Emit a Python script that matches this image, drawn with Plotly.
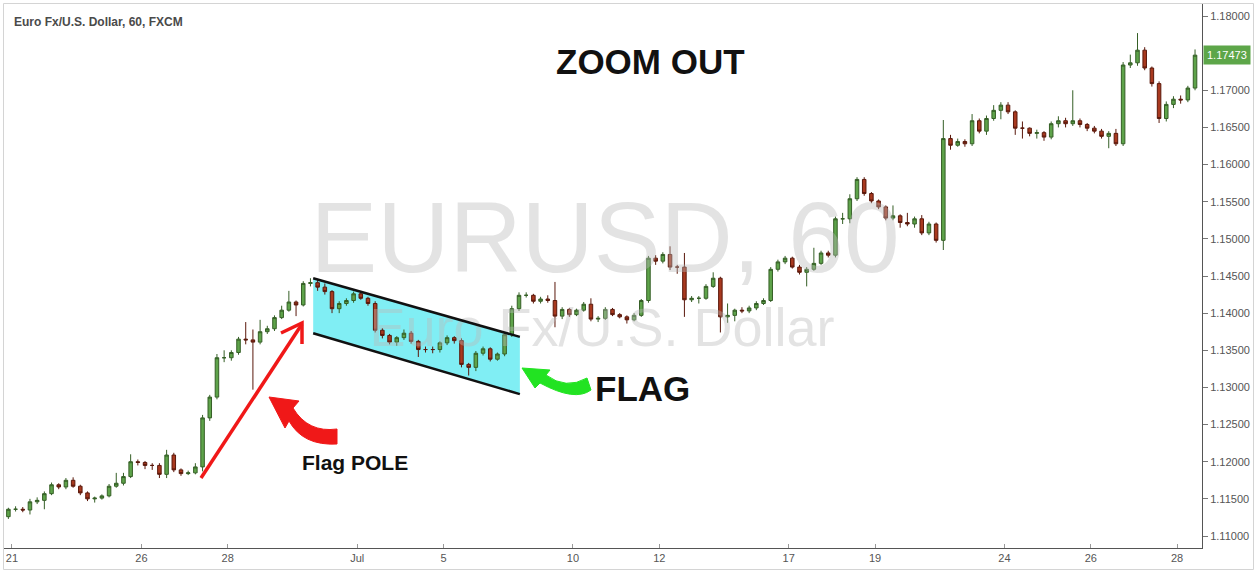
import plotly.graph_objects as go

# ---------------- data (EUR/USD, 4-hour bars) ----------------
first_open = 1.1126
close = [1.1136, 1.1136, 1.1135, 1.1146, 1.1148, 1.1157, 1.1169, 1.1166, 1.1175, 1.1167,
         1.1158, 1.1150, 1.1151, 1.1154, 1.1167, 1.1171, 1.1180, 1.1200, 1.1199, 1.1195,
         1.1195, 1.1183, 1.1209, 1.1189, 1.1184, 1.1185, 1.1193, 1.1259, 1.1287, 1.1340,
         1.1340, 1.1347, 1.1365, 1.1364, 1.1361, 1.1375, 1.1379, 1.1394, 1.1404, 1.1415,
         1.1411, 1.1440, 1.1441, 1.1435, 1.1429, 1.1406, 1.1413, 1.1417, 1.1426, 1.1420,
         1.1413, 1.1377, 1.1370, 1.1361, 1.1367, 1.1373, 1.1362, 1.1351, 1.1351, 1.1351,
         1.1360, 1.1367, 1.1363, 1.1331, 1.1327, 1.1346, 1.1352, 1.1338, 1.1345, 1.1371,
         1.1406, 1.1424, 1.1424, 1.1416, 1.1419, 1.1417, 1.1396, 1.1405, 1.1398, 1.1404,
         1.1412, 1.1392, 1.1393, 1.1405, 1.1398, 1.1395, 1.1391, 1.1397, 1.1417, 1.1474,
         1.1470, 1.1479, 1.1462, 1.1462, 1.1418, 1.1420, 1.1420, 1.1436, 1.1447, 1.1395,
         1.1397, 1.1404, 1.1403, 1.1407, 1.1413, 1.1417, 1.1459, 1.1469, 1.1474, 1.1462,
         1.1455, 1.1459, 1.1467, 1.1481, 1.1478, 1.1527, 1.1527, 1.1554, 1.1580, 1.1561,
         1.1551, 1.1543, 1.1528, 1.1531, 1.1522, 1.1520, 1.1527, 1.1508, 1.1520, 1.1498,
         1.1635, 1.1626, 1.1631, 1.1628, 1.1659, 1.1645, 1.1662, 1.1673, 1.1680, 1.1671,
         1.1649, 1.1649, 1.1642, 1.1643, 1.1637, 1.1655, 1.1659, 1.1655, 1.1659, 1.1654,
         1.1649, 1.1645, 1.1638, 1.1642, 1.1628, 1.1734, 1.1737, 1.1754, 1.1730, 1.1709,
         1.1662, 1.1681, 1.1688, 1.1687, 1.1703, 1.17473]
high = [1.1138, 1.1140, 1.1139, 1.1150, 1.1152, 1.1160, 1.1172, 1.1171, 1.1178, 1.1179,
        1.1169, 1.1160, 1.1153, 1.1156, 1.1170, 1.1185, 1.1185, 1.1210, 1.1203, 1.1201,
        1.1198, 1.1198, 1.1216, 1.1212, 1.1191, 1.1188, 1.1198, 1.1263, 1.1290, 1.1345,
        1.1350, 1.1350, 1.1368, 1.1388, 1.1378, 1.1391, 1.1383, 1.1397, 1.1410, 1.1430,
        1.1417, 1.1443, 1.1447, 1.1446, 1.1440, 1.1431, 1.1416, 1.1420, 1.1429, 1.1430,
        1.1422, 1.1416, 1.1380, 1.1372, 1.1369, 1.1378, 1.1376, 1.1364, 1.1355, 1.1355,
        1.1362, 1.1370, 1.1369, 1.1366, 1.1333, 1.1349, 1.1355, 1.1354, 1.1347, 1.1373,
        1.1410, 1.1428, 1.1428, 1.1426, 1.1422, 1.1424, 1.1442, 1.1408, 1.1407, 1.1406,
        1.1415, 1.1420, 1.1396, 1.1408, 1.1407, 1.1400, 1.1397, 1.1400, 1.1419, 1.1477,
        1.1478, 1.1482, 1.1490, 1.1465, 1.1481, 1.1423, 1.1423, 1.1439, 1.1455, 1.1449,
        1.1413, 1.1406, 1.1408, 1.1410, 1.1416, 1.1420, 1.1462, 1.1472, 1.1477, 1.1476,
        1.1465, 1.1462, 1.1488, 1.1484, 1.1484, 1.1530, 1.1535, 1.1560, 1.1583, 1.1583,
        1.1563, 1.1553, 1.1545, 1.1545, 1.1533, 1.1535, 1.1530, 1.1532, 1.1523, 1.1522,
        1.1660, 1.1640, 1.1635, 1.1634, 1.1668, 1.1662, 1.1666, 1.1680, 1.1684, 1.1684,
        1.1673, 1.1658, 1.1650, 1.1647, 1.1645, 1.1658, 1.1665, 1.1663, 1.1700, 1.1662,
        1.1656, 1.1652, 1.1648, 1.1645, 1.1648, 1.1738, 1.1748, 1.1777, 1.1758, 1.1732,
        1.1712, 1.1685, 1.1692, 1.1693, 1.1706, 1.1755]
low = [1.1123, 1.1133, 1.1132, 1.1129, 1.1143, 1.1136, 1.1155, 1.1163, 1.1163, 1.1165,
       1.1155, 1.1147, 1.1145, 1.1149, 1.1152, 1.1165, 1.1168, 1.1178, 1.1195, 1.1190,
       1.1189, 1.1178, 1.1178, 1.1186, 1.1181, 1.1182, 1.1183, 1.1187, 1.1255, 1.1284,
       1.1334, 1.1336, 1.1344, 1.1358, 1.1297, 1.1358, 1.1372, 1.1376, 1.1392, 1.1402,
       1.1396, 1.1409, 1.1436, 1.1430, 1.1425, 1.1400, 1.1400, 1.1410, 1.1414, 1.1418,
       1.1410, 1.1374, 1.1366, 1.1358, 1.1356, 1.1364, 1.1359, 1.1341, 1.1347, 1.1346,
       1.1347, 1.1357, 1.1359, 1.1327, 1.1316, 1.1322, 1.1343, 1.1335, 1.1336, 1.1342,
       1.1368, 1.1403, 1.1421, 1.1413, 1.1413, 1.1414, 1.1381, 1.1392, 1.1395, 1.1396,
       1.1402, 1.1389, 1.1388, 1.1391, 1.1396, 1.1393, 1.1386, 1.1389, 1.1395, 1.1414,
       1.1465, 1.1467, 1.1458, 1.1453, 1.1395, 1.1415, 1.1413, 1.1418, 1.1434, 1.1374,
       1.1387, 1.1389, 1.1400, 1.1400, 1.1404, 1.1411, 1.1415, 1.1456, 1.1466, 1.1460,
       1.1452, 1.1436, 1.1457, 1.1465, 1.1475, 1.1475, 1.1520, 1.1521, 1.1551, 1.1558,
       1.1548, 1.1540, 1.1525, 1.1525, 1.1515, 1.1517, 1.1515, 1.1505, 1.1505, 1.1495,
       1.1485, 1.1620, 1.1624, 1.1624, 1.1625, 1.1642, 1.1640, 1.1659, 1.1661, 1.1668,
       1.1640, 1.1635, 1.1638, 1.1635, 1.1632, 1.1634, 1.1650, 1.1650, 1.1652, 1.1650,
       1.1645, 1.1642, 1.1635, 1.1622, 1.1625, 1.1625, 1.1730, 1.1733, 1.1727, 1.1705,
       1.1656, 1.1658, 1.1676, 1.1682, 1.1684, 1.1700]
# FX bars: each bar opens at the previous bar's close
open_ = [first_open] + close[:-1]

BARS_PER_DAY = 6
# bar position on a trading-day axis (weekends removed), bar centre
bar_x = [(i - 0.5) / BARS_PER_DAY for i in range(len(close))]

# trading-day index of each date label
tick_days = [0, 3, 5, 8, 10, 13, 15, 18, 20, 23, 25, 27]
tick_text = ["21", "26", "28", "Jul", "5", "10", "12", "17", "19", "24", "26", "28"]

# price-scale labels (1.17500 is hidden behind the last-price tag)
price_ticks = [1.110, 1.115, 1.120, 1.125, 1.130, 1.135, 1.140, 1.145,
               1.150, 1.155, 1.160, 1.165, 1.170, 1.180]

last_price = 1.17473

# flag channel (trading-day, price)
flag_x = [6.98, 11.77]
flag_upper = [1.1447, 1.1368]
flag_lower = [1.1373, 1.1291]

# ---------------- layout geometry ----------------
W, H = 1257, 573
L, R, T, B = 4, 1202, 4, 548          # plot area in pixels
X0, X1 = -0.185, 27.578
Y0, Y1 = 1.108385, 1.181615


def px2x(px):
    return X0 + (px - L) / (R - L) * (X1 - X0)


def px2y(py):
    return Y1 - (py - T) / (B - T) * (Y1 - Y0)


def path(points_cmds):
    out = []
    for cmd, pts in points_cmds:
        coords = " ".join(f"{px2x(a):.5f},{px2y(b):.6f}" for a, b in pts)
        out.append(f"{cmd} {coords}")
    return " ".join(out) + " Z"


FONT = "Liberation Sans, Arial, sans-serif"

fig = go.Figure()

# watermark (drawn under the candles)
fig.add_trace(go.Scatter(
    x=[px2x(605), px2x(602)], y=[px2y(247), px2y(332)],
    mode="text", text=["EURUSD, 60", "Euro Fx/U.S. Dollar"],
    textfont=dict(family=FONT, size=[100, 54], color="rgba(185,185,185,0.40)"),
    hoverinfo="skip", showlegend=False))

fig.add_trace(go.Candlestick(
    x=bar_x, open=open_, high=high, low=low, close=close,
    increasing=dict(line=dict(color="#355f26", width=1), fillcolor="#5ea34a"),
    decreasing=dict(line=dict(color="#5a180b", width=1), fillcolor="#a8391f"),
    whiskerwidth=0, showlegend=False, hoverinfo="skip"))

shapes = []
# outer frame
shapes.append(dict(type="rect", xref="paper", yref="paper",
                   x0=(3.5 - L) / (R - L), x1=(1253.5 - L) / (R - L),
                   y0=(B - 569.5) / (B - T), y1=(B - 3.5) / (B - T),
                   line=dict(color="#d4d4d4", width=1), layer="below"))
# flag fill
shapes.append(dict(type="path", xref="x", yref="y", layer="below",
                   path=(f"M {flag_x[0]},{flag_upper[0]} L {flag_x[1]},{flag_upper[1]} "
                         f"L {flag_x[1]},{flag_lower[1]} L {flag_x[0]},{flag_lower[0]} Z"),
                   fillcolor="#80eef4", line=dict(width=0)))
for ys in (flag_upper, flag_lower):
    shapes.append(dict(type="line", xref="x", yref="y", x0=flag_x[0], x1=flag_x[1],
                       y0=ys[0], y1=ys[1], line=dict(color="#111111", width=2.5)))

RED = "#f01818"
GREEN = "#22e322"
# straight pole arrow
shapes.append(dict(type="line", xref="x", yref="y", x0=px2x(201), y0=px2y(478),
                   x1=px2x(302), y1=px2y(324), line=dict(color=RED, width=3.5)))
shapes.append(dict(type="path", xref="x", yref="y",
                   path=f"M {px2x(281)},{px2y(333)} L {px2x(302)},{px2y(323)} L {px2x(302)},{px2y(344)}",
                   line=dict(color=RED, width=3.5)))
# red curved arrow
shapes.append(dict(type="path", xref="x", yref="y", fillcolor=RED, line=dict(color=RED, width=1),
                   path=path([("M", [(269, 397)]), ("L", [(299, 401)]), ("L", [(293, 408)]),
                              ("Q", [(308, 433), (337, 429)]), ("L", [(337, 444)]),
                              ("Q", [(303, 446), (289, 421)]), ("L", [(285, 428)])])))
# green curved arrow
shapes.append(dict(type="path", xref="x", yref="y", fillcolor=GREEN, line=dict(color=GREEN, width=1),
                   path=path([("M", [(522, 368)]), ("L", [(550, 370)]), ("L", [(546, 375)]),
                              ("Q", [(566, 390), (587, 378)]), ("L", [(591, 390)]),
                              ("Q", [(575, 402), (540, 383)]), ("L", [(535, 388)])])))

annotations = [
    dict(x=0, y=1, xref="paper", yref="paper", xanchor="left", yanchor="top",
         xshift=8, yshift=-9, showarrow=False, text="<b>Euro Fx/U.S. Dollar, 60, FXCM</b>",
         font=dict(family=FONT, size=12, color="#4a4a4a")),
    dict(x=px2x(650), y=px2y(61), xref="x", yref="y", showarrow=False, text="<b>ZOOM OUT</b>",
         font=dict(family=FONT, size=35, color="#111111")),
    dict(x=px2x(642), y=px2y(388), xref="x", yref="y", showarrow=False, text="<b>FLAG</b>",
         font=dict(family=FONT, size=35, color="#111111")),
    dict(x=px2x(355), y=px2y(462), xref="x", yref="y", showarrow=False, text="<b>Flag POLE</b>",
         font=dict(family=FONT, size=21, color="#111111")),
    dict(x=1, y=last_price, xref="paper", yref="y", xanchor="left", showarrow=False,
         xshift=1, text=f"{last_price:.5f}", bgcolor="#5da649", borderpad=3,
         font=dict(family=FONT, size=11, color="#ffffff")),
]

fig.update_layout(
    width=W, height=H,
    margin=dict(l=L, r=W - R, t=T, b=H - B, pad=0, autoexpand=False),
    paper_bgcolor="#ffffff", plot_bgcolor="#ffffff",
    showlegend=False, hovermode=False,
    shapes=shapes, annotations=annotations,
    xaxis=dict(range=[X0, X1], tickvals=tick_days, ticktext=tick_text, automargin=False,
               showgrid=False, zeroline=False, showline=True, linecolor="#555555",
               ticks="inside", ticklen=4, tickcolor="#999999",
               tickfont=dict(family=FONT, size=11, color="#555555"),
               rangeslider=dict(visible=False), fixedrange=True),
    yaxis=dict(range=[Y0, Y1], side="right", tickvals=price_ticks, tickformat=".5f",
               automargin=False,
               showgrid=False, zeroline=False, showline=True, linecolor="#555555",
               ticks="outside", ticklen=5, tickcolor="#777777",
               tickfont=dict(family=FONT, size=11, color="#555555"), fixedrange=True),
)

# the page's default body margin would push the 1257x573 figure off the window
fig.write_html("out.html", config={"displayModeBar": False},
               post_script="document.body.style.margin='0';document.body.style.overflow='hidden';")
